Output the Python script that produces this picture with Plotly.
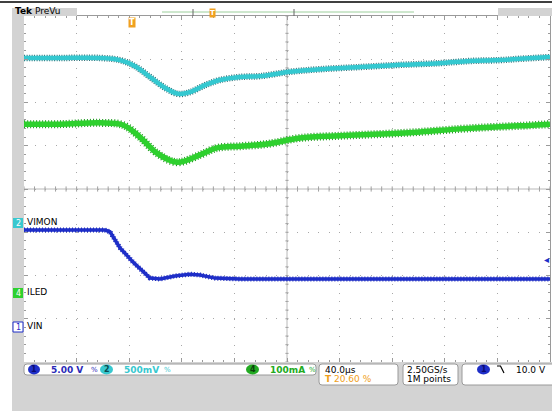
import plotly.graph_objects as go

# Time axis in microseconds (40 us/div, trigger at 20.60 %), vertical in divisions
ch2_t = [-82.4, -55.0, -24.6, -9.4, 2.0, 13.4, 24.8, 34.7, 43.8, 55.2, 66.6, 81.9,
         97.1, 119.9, 142.7, 173.1, 203.5, 233.9, 256.7, 279.5, 294.7, 317.6]
ch2_div = [3.03, 3.03, 3.03, 2.98, 2.84, 2.59, 2.34, 2.20, 2.24, 2.40, 2.52, 2.59,
           2.61, 2.71, 2.77, 2.82, 2.87, 2.91, 2.96, 2.98, 3.01, 3.05]

ch4_t = [-82.4, -55.0, -24.6, -7.1, 5.8, 18.7, 34.0, 51.5, 64.4, 81.9, 102.4, 127.5,
         157.9, 188.3, 218.8, 249.2, 271.9, 294.7, 317.6]
ch4_div = [1.50, 1.50, 1.53, 1.48, 1.20, 0.83, 0.62, 0.79, 0.95, 0.99, 1.04, 1.18,
           1.23, 1.27, 1.32, 1.39, 1.43, 1.46, 1.50]

ch1_t = [-82.4, -20.8, -17.0, -9.4, 0.5, 13.4, 21.0, 32.4, 43.8, 51.5, 62.8, 81.9,
         127.5, 203.5, 249.2, 264.4, 317.6]
ch1_div = [-0.95, -0.95, -0.99, -1.36, -1.69, -2.06, -2.08, -2.01, -1.97, -1.99, -2.06,
           -2.08, -2.08, -2.08, -2.10, -2.08, -2.08]

T0 = -82.4      # left edge of screen
TDIV = 40.0     # us per division
FONT = "DejaVu Sans"
GRAY = "#d3d3d3"

# pixel -> paper helpers (plot area is x 24..550, y 16..362)
def px(x):
    return (x - 24) / 526.0

def py(y):
    return (362 - y) / 346.0

fig = go.Figure()

# cyan trace: dark speckled edge + cyan core
fig.add_trace(go.Scatter(x=ch2_t, y=ch2_div, mode="lines", line=dict(color="#2a6f76", width=6.5, dash="1px,1.5px", shape="spline")))
fig.add_trace(go.Scatter(x=ch2_t, y=ch2_div, mode="lines", line=dict(color="#34c8d0", width=4.5, shape="spline")))
# green trace with ripple look
fig.add_trace(go.Scatter(x=ch4_t, y=ch4_div, mode="lines", line=dict(color="#1e9a1e", width=8, dash="1px,2px", shape="spline")))
fig.add_trace(go.Scatter(x=ch4_t, y=ch4_div, mode="lines", line=dict(color="#2ed02e", width=5.5, shape="spline")))
# blue trace
fig.add_trace(go.Scatter(x=ch1_t, y=ch1_div, mode="lines", line=dict(color="#1a28b8", width=5, dash="1px,2px")))
fig.add_trace(go.Scatter(x=ch1_t, y=ch1_div, mode="lines", line=dict(color="#1e2ec8", width=3.5)))

shapes = []
annos = []

def rect(x0, y0, x1, y1, fill, line=None, layer="below"):
    shapes.append(dict(type="rect", xref="paper", yref="paper", x0=px(x0), x1=px(x1),
                       y0=py(y1), y1=py(y0), fillcolor=fill,
                       line=dict(color=line or fill, width=1 if line else 0), layer=layer))

def rbox(x0, y0, x1, y1, r=3):
    # rounded box in paper coords
    a, b, c, d = px(x0), px(x1), py(y1), py(y0)
    rx, ry = r / 526.0, r / 346.0
    path = (f"M {a+rx},{c} L {b-rx},{c} Q {b},{c} {b},{c+ry} L {b},{d-ry} Q {b},{d} {b-rx},{d} "
            f"L {a+rx},{d} Q {a},{d} {a},{d-ry} L {a},{c+ry} Q {a},{c} {a+rx},{c} Z")
    shapes.append(dict(type="path", xref="paper", yref="paper", path=path, fillcolor="white",
                       line=dict(color="#9a9a9a", width=1), layer="above"))

def text(x, y, s, color="black", size=9, anchor="left", bold=False):
    if bold:
        s = "<b>" + s + "</b>"
    annos.append(dict(x=px(x), y=py(y), xref="paper", yref="paper", text=s, showarrow=False,
                      xanchor=anchor, yanchor="middle", font=dict(family=FONT, size=size, color=color)))

def oval(x0, x1, yc, fill, label, lcolor):
    shapes.append(dict(type="circle", xref="paper", yref="paper", x0=px(x0), x1=px(x1),
                       y0=py(yc + 5), y1=py(yc - 5), fillcolor=fill, line=dict(width=0), layer="above"))
    text((x0 + x1) / 2, yc, label, lcolor, 8, "center", True)

# gray frame areas
rect(12, 362, 552, 411, GRAY, layer="above")
rect(12, 8, 24, 362, GRAY, layer="above")
rect(12, 8, 77, 16, GRAY, layer="above")
rect(498, 8, 552, 16, GRAY, layer="above")
shapes.append(dict(type="line", xref="paper", yref="paper", x0=px(0), x1=px(552), y0=py(2), y1=py(2),
                   line=dict(color="black", width=1.5)))
# record view bar
shapes.append(dict(type="line", xref="paper", yref="paper", x0=px(162), x1=px(414), y0=py(12), y1=py(12),
                   line=dict(color="#9ccf9c", width=1)))
for xv in (193, 294):
    shapes.append(dict(type="line", xref="paper", yref="paper", x0=px(xv), x1=px(xv), y0=py(9), y1=py(16),
                       line=dict(color="#666666", width=1)))
text(13, 11.5, "<b>Tek</b> PreVu", "black", 9)

# centre cross with minor ticks
ctr_t = T0 + 5 * TDIV
shapes.append(dict(type="line", x0=T0, x1=T0 + 10 * TDIV, y0=0, y1=0, line=dict(color="#b8b8b8", width=1), layer="below"))
shapes.append(dict(type="line", x0=ctr_t, x1=ctr_t, y0=-4, y1=4, line=dict(color="#b8b8b8", width=1), layer="below"))
for i in range(51):
    tx = T0 + i * TDIV / 5
    shapes.append(dict(type="line", x0=tx, x1=tx, y0=-0.06, y1=0.06, line=dict(color="#a0a0a0", width=1), layer="below"))
for i in range(41):
    ty = -4 + i * 0.2
    shapes.append(dict(type="line", x0=ctr_t - 1.2, x1=ctr_t + 1.2, y0=ty, y1=ty, line=dict(color="#a0a0a0", width=1), layer="below"))

# trigger markers
text(132, 22, "T", "white", 8, "center", True)
annos[-1].update(bgcolor="#f0a020", borderpad=0)
text(212, 12.5, "T", "white", 7, "center", True)
annos[-1].update(bgcolor="#f0a020", borderpad=0)
text(546, 259, "◂", "#1e2ec8", 10, "center")

# channel labels on the left
rect(13, 218, 23, 228, "#38c8cf", layer="above")
text(18, 223, "2", "white", 8, "center")
text(25, 222, "VIMON", "black", 9)
rect(13, 288, 23, 298, "#2ed02e", layer="above")
text(18, 293, "4", "white", 8, "center")
text(25, 292, "ILED", "black", 9)
rect(13, 322, 23, 332, "white", "#1e2ec8", layer="above")
text(18, 327, "1", "#1e2ec8", 8, "center")
text(25, 326, "VIN", "black", 9)

# status bar
rbox(24, 364, 316, 375)
oval(28, 40, 369.5, "#1e2ec8", "1", "#0a0a70")
text(49, 369.5, "5.00 V", "#2a2ab8", 9, bold=True)
text(89, 369.5, "%", "#2a2ab8", 7)
oval(100, 113, 369.5, "#38c8cf", "2", "#0a4a50")
text(122, 369.5, "500mV", "#38c8cf", 9, bold=True)
text(162, 369.5, "%", "#38c8cf", 7)
oval(246, 259, 369.5, "#22aa22", "4", "#0a400a")
text(268, 369.5, "100mA", "#22aa22", 9, bold=True)
text(307, 369.5, "%", "#22aa22", 7)

rbox(319, 364, 398, 385)
text(323, 369.5, "40.0µs", "black", 9)
text(323, 378.5, "<b>T</b> 20.60 %", "#f0a020", 9)
rbox(403, 364, 458, 385)
text(405, 369.5, "2.50GS/s", "black", 9)
text(405, 378.5, "1M points", "black", 9)
rbox(462, 364, 556, 385)
oval(477, 490, 369.5, "#1e2ec8", "1", "#0a0a70")
# falling-edge slope symbol
shapes.append(dict(type="path", xref="paper", yref="paper",
                   path=f"M {px(497)},{py(366)} L {px(500.5)},{py(366)} L {px(504)},{py(373)}",
                   line=dict(color="black", width=1.2), layer="above"))
text(548, 369.5, "10.0 V", "black", 9, "right")

axis_common = dict(showticklabels=False, zeroline=False, showline=True, linecolor="#9a9a9a",
                   linewidth=1, mirror="ticks", ticks="inside", ticklen=4, tickcolor="#9a9a9a",
                   gridcolor="#a8a8a8", gridwidth=1)

fig.update_layout(
    width=552, height=411,
    margin=dict(l=24, r=2, t=16, b=49),
    paper_bgcolor="white", plot_bgcolor="white",
    showlegend=False,
    xaxis=dict(range=[T0, T0 + 10 * TDIV], tick0=T0, dtick=TDIV, griddash="1px,7.65px",
               minor=dict(ticks="inside", ticklen=2, dtick=TDIV / 5, tick0=T0, tickcolor="#9a9a9a"),
               **axis_common),
    yaxis=dict(range=[-4, 4], tick0=-4, dtick=1, griddash="1px,9.5px",
               minor=dict(ticks="inside", ticklen=2, dtick=0.2, tick0=-4, tickcolor="#9a9a9a"),
               **axis_common),
    shapes=shapes,
    annotations=annos,
)

# page body has a default 8px margin; drop it so the figure sits at the window corner
fig.write_html("out.html", config={"displayModeBar": False},
               post_script="document.body.style.margin='0';")
